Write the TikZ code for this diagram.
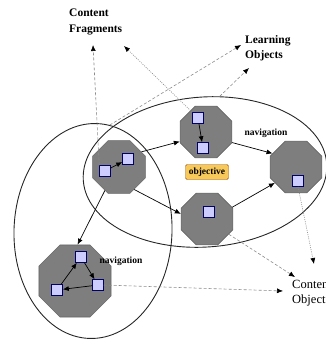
\documentclass[tikz,border=0pt]{standalone}
\usepackage{fontspec}
\setmainfont{Liberation Serif}
\usetikzlibrary{arrows.meta,shapes.geometric}
\definecolor{octgray}{HTML}{7E7E7E}
\definecolor{sqfill}{HTML}{CCCCFF}
\definecolor{objfill}{HTML}{F7C85A}

\begin{document}
\begin{tikzpicture}[x=1pt,y=-1pt,
  oct/.style={regular polygon,regular polygon sides=8,draw=black!60,fill=octgray,line width=0.6pt,inner sep=0pt},
  sq/.style={rectangle,draw=black!60!blue,fill=sqfill,minimum size=11pt,inner sep=0pt,line width=0.5pt},
  grp/.style={ellipse,draw=black!85,line width=0.9pt,inner sep=0pt},
  link/.style={-{Latex[length=6pt,width=5pt]},line width=0.7pt},
  ref/.style={-{Latex[length=6pt,width=5pt,black]},draw=black!45,dash pattern=on 3pt off 2pt,line width=0.6pt},
  fineref/.style={ref,dash pattern=on 1pt off 1.2pt}]
\useasboundingbox (0,0) rectangle (326,345);
% composite learning objects
\node[grp,minimum width=158pt,minimum height=215pt,rotate=-2] (lelli) at (93,231) {};
\node[grp,minimum width=244pt,minimum height=150pt,rotate=4] (relli) at (205,172) {};
% content objects
\node[oct,minimum size=57pt] (o1) at (119,167) {};
\node[oct,minimum size=56pt] (o2) at (206,132) {};
\node[oct,minimum size=56pt] (o3) at (296,167) {};
\node[oct,minimum size=56pt] (o4) at (207,219) {};
\node[oct,minimum size=78pt] (o5) at (75,281) {};
% fragments
\node[sq] (s1a) at (105,171) {};
\node[sq] (s1b) at (128,159) {};
\node[sq] (s2a) at (198,118) {};
\node[sq] (s2b) at (203,148) {};
\node[sq] (s3) at (298,181) {};
\node[sq] (s4) at (209,212) {};
\node[sq] (s5t) at (81,257) {};
\node[sq] (s5r) at (98,285) {};
\node[sq] (s5l) at (57,290) {};
\node[draw=black!40!orange,fill=objfill,rounded corners=1.5pt,minimum width=43pt,minimum height=15pt,inner sep=0pt,font=\fontsize{9.5}{10}\selectfont\bfseries] (obj) at (207,172) {objective};
\node[font=\fontsize{9.5}{10}\selectfont\bfseries] (nav1) at (266,133) {navigation};
\node[font=\fontsize{9.5}{10}\selectfont\bfseries] (nav2) at (121,261) {navigation};
% labels
\node[anchor=north west,align=left,inner sep=0pt,font=\fontsize{11.5}{15.5}\selectfont\bfseries] (frag) at (69,9) {Content\\Fragments};
\node[anchor=north west,align=left,inner sep=0pt,font=\fontsize{11.5}{15.5}\selectfont\bfseries] (learn) at (245,35) {Learning\\Objects};
\node[anchor=north west,align=left,inner sep=0pt,font=\fontsize{12.5}{15.5}\selectfont] (cobj) at (292,280) {Content\\Objects};
\coordinate (fragA) at (93,45);
\coordinate (fragB) at (124,46);
\coordinate (learnA) at (241,45);
\coordinate (learnB) at (249,68);
\coordinate (cobjA) at (283,291);
\coordinate (cobjB) at (295,277);
\coordinate (cobjC) at (314,264);
% navigation
\draw[link] (o1.34) -- (o2.200);
\draw[link] (o1.304) -- (o4.169);
\draw[link] (o2.338) -- (o3.150);
\draw[link] (o4.25) -- (o3.217);
\draw[link] (o1.239) -- (o5.86);
\draw[link] (s1a) -- (s1b);
\draw[link] (s2a) -- (s2b);
\draw[link] (s5l) -- (s5t);
\draw[link] (s5t) -- (s5r);
\draw[link] (s5r) -- (s5l);
% references
\draw[ref] (s1a.north west) -- (fragA);
\draw[fineref] (s2a.north west) -- (fragB);
\draw[ref] (lelli.83) -- (learnA);
\draw[ref] (relli.75) -- (learnB);
\draw[fineref] (s3.south) -- (cobjC);
\draw[ref] (o4.-35) -- (cobjB);
\draw[ref] (s5r.east) -- (cobjA);
\end{tikzpicture}
\end{document}
